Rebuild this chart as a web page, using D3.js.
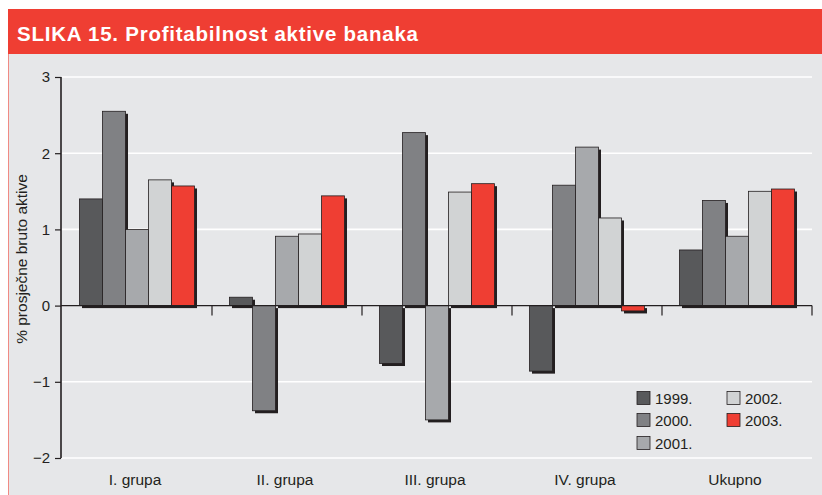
<!DOCTYPE html>
<html>
<head>
<meta charset="utf-8">
<script src="https://cdn.jsdelivr.net/npm/d3@7"></script>
<style>
  body { margin: 0; background: #fff; }
  svg { display: block; font-family: "Liberation Sans", Arial, sans-serif; }
</style>
</head>
<body>
<script>
  var categories = ['I. grupa', 'II. grupa', 'III. grupa', 'IV. grupa', 'Ukupno'],
      years = ['1999.', '2000.', '2001.', '2002.', '2003.'],
      v1999 = [1.40, 0.11, -0.76, -0.86, 0.73],
      v2000 = [2.55, -1.38, 2.27, 1.58, 1.38],
      v2001 = [1.00, 0.91, -1.50, 2.08, 0.91],
      v2002 = [1.65, 0.94, 1.49, 1.15, 1.50],
      v2003 = [1.57, 1.44, 1.60, -0.07, 1.53],
      yTicks = [-2, -1, 0, 1, 2, 3],
      colors = ['#58595b', '#808184', '#a7a9ac', '#d1d3d4', '#ef3e33'];

  var series = [v1999, v2000, v2001, v2002, v2003];
  var W = 822, H = 495;

  var svg = d3.select('body').append('svg')
    .attr('width', W).attr('height', H);

  // frame
  svg.append('rect').attr('x', 8).attr('y', 54).attr('width', W - 8).attr('height', H - 54)
    .attr('fill', '#e6e7e9');
  svg.append('line').attr('x1', 8.5).attr('x2', 8.5).attr('y1', 54).attr('y2', H)
    .attr('stroke', '#f08a84').attr('stroke-width', 1);
  svg.append('rect').attr('x', 8).attr('y', 9).attr('width', W - 8).attr('height', 45)
    .attr('fill', '#ef3e33');
  svg.append('text').attr('x', 17).attr('y', 41)
    .attr('fill', '#fff').attr('font-weight', 'bold').attr('font-size', 20.5)
    .attr('textLength', 401).attr('lengthAdjust', 'spacing')
    .text('SLIKA 15. Profitabilnost aktive banaka');

  var x0 = d3.scaleBand().domain(categories).range([62, 812]),
      x1 = d3.scaleBand().domain(years).range([17.5, 132.5]),
      y = d3.scaleLinear().domain([-2, 3]).range([458, 77]);

  // grid
  svg.append('g').selectAll('line').data(yTicks.filter(function (d) { return d !== 0; }))
    .enter().append('line')
    .attr('x1', 62).attr('x2', 812)
    .attr('y1', function (d) { return y(d); }).attr('y2', function (d) { return y(d); })
    .attr('stroke', '#fff').attr('stroke-width', 1.6);

  // bars
  var rows = [];
  series.forEach(function (s, si) {
    s.forEach(function (v, ci) {
      rows.push({cat: categories[ci], year: years[si], v: v, c: colors[si]});
    });
  });

  var bars = svg.append('g');
  bars.selectAll('rect.shadow').data(rows).enter().append('rect')
    .attr('class', 'shadow')
    .attr('x', function (d) { return x0(d.cat) + x1(d.year) + 2.5; })
    .attr('y', function (d) { return Math.min(y(d.v), y(0)) + 2.5; })
    .attr('width', x1.bandwidth())
    .attr('height', function (d) { return Math.abs(y(d.v) - y(0)); })
    .attr('fill', '#231f20');
  bars.selectAll('rect.bar').data(rows).enter().append('rect')
    .attr('class', 'bar')
    .attr('x', function (d) { return x0(d.cat) + x1(d.year); })
    .attr('y', function (d) { return Math.min(y(d.v), y(0)); })
    .attr('width', x1.bandwidth())
    .attr('height', function (d) { return Math.abs(y(d.v) - y(0)); })
    .attr('fill', function (d) { return d.c; })
    .attr('stroke', '#231f20').attr('stroke-width', 0.8);

  // axes
  var yAxis = svg.append('g').attr('transform', 'translate(61,0)')
    .call(d3.axisLeft(y).tickValues(yTicks).tickSize(6).tickPadding(5)
      .tickFormat(function (d) { return d < 0 ? '\u2212' + Math.abs(d) : d; }));
  yAxis.select('.domain').attr('stroke', '#231f20').attr('stroke-width', 1.6)
    .attr('d', 'M0,' + y(3) + 'V' + y(-2));
  yAxis.selectAll('.tick line').attr('stroke', '#231f20').attr('stroke-width', 1.2)
    .attr('x1', 0).attr('x2', -6);
  yAxis.selectAll('.tick text').attr('font-size', 15).attr('fill', '#231f20')
    .attr('font-family', '"Liberation Sans", Arial, sans-serif');

  svg.append('line').attr('x1', 61).attr('x2', 812)
    .attr('y1', y(0)).attr('y2', y(0))
    .attr('stroke', '#231f20').attr('stroke-width', 1.4);
  svg.append('g').selectAll('line')
    .data(categories.slice(1).map(function (c) { return x0(c); }).concat([812]))
    .enter().append('line')
    .attr('x1', function (d) { return d; }).attr('x2', function (d) { return d; })
    .attr('y1', y(0)).attr('y2', y(0) + 10)
    .attr('stroke', '#231f20').attr('stroke-width', 1.2);

  svg.append('g').selectAll('text').data(categories).enter().append('text')
    .attr('x', function (d) { return x0(d) + x0.bandwidth() / 2 - 2; })
    .attr('y', 485)
    .attr('text-anchor', 'middle').attr('font-size', 15.5).attr('fill', '#231f20')
    .text(function (d) { return d; });

  svg.append('text')
    .attr('transform', 'translate(27,259) rotate(-90)')
    .attr('text-anchor', 'middle').attr('font-size', 15.5).attr('fill', '#231f20')
    .text('% prosječne bruto aktive');

  // legend
  var legendPos = [[637, 398], [637, 420], [637, 443], [727, 398], [727, 420]];
  var legend = svg.append('g').selectAll('g').data(years).enter().append('g')
    .attr('transform', function (d, i) { return 'translate(' + legendPos[i][0] + ',' + legendPos[i][1] + ')'; });
  legend.append('rect').attr('x', 0).attr('y', -6.5).attr('width', 13).attr('height', 13)
    .attr('fill', function (d, i) { return colors[i]; })
    .attr('stroke', '#231f20').attr('stroke-width', 0.8);
  legend.append('text').attr('x', 18).attr('y', 5.5)
    .attr('font-size', 15).attr('fill', '#231f20')
    .text(function (d) { return d; });
</script>
</body>
</html>
